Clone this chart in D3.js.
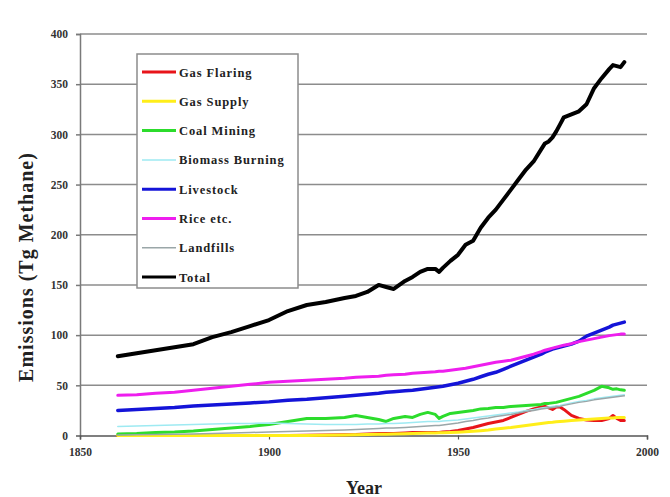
<!DOCTYPE html>
<html>
<head>
<meta charset="utf-8">
<script src="https://cdn.jsdelivr.net/npm/d3@7"></script>
<style>
  html, body { margin: 0; padding: 0; background: #fff; }
  svg { display: block; }
  text { font-family: "Liberation Serif", "Times New Roman", serif; font-weight: bold; }
</style>
</head>
<body>
<svg id="chart" width="670" height="497"></svg>
<script>
// Anthropogenic methane emissions by source, Tg CH4 per year
const years = [1860,1865,1870,1875,1880,1885,1890,1895,1900,1905,1910,1915,1920,1923,1926,1929,1931,1933,1936,1938,1940,1942,1944,1945,1946,1948,1950,1952,1954,1956,1958,1960,1962,1964,1966,1968,1970,1972,1973,1974,1975,1976,1977,1978,1980,1982,1984,1986,1988,1990,1991,1992,1993,1994];

const gasFlaring = [0,0,0,0,0,0,0,0,0,0,0.2,0.5,0.8,1,1.5,2,2,2,2.5,3,3,3,3,3,3.5,4,5,6.5,8,10,12,13.5,15,18,21,24,26.5,28.5,29,27.5,26,28.5,28.5,26,20,17,15.5,15,15,17,20,17,15,15];
const gasSupply = [0,0,0,0,0,0,0,0,0,0,0,0.2,0.5,0.7,1,1.2,1.3,1.4,1.7,2,2.2,2.4,2.6,2.7,2.8,3,3.3,3.7,4.2,4.8,5.5,6.5,7.3,8,9,10,11,12,12.5,13,13.3,13.7,14,14.3,15,15.5,16,16.5,17,17.5,17.5,18,18,18];
const coalMining = [1.5,2,3,3.5,4.5,6,7.5,9,11,14,17,17,18,20,18,16,14,17,19,18,21,23,21,17,19,22,23,24,25,26.5,27,28,28,29,29.5,30,30.5,31,32,32,32.5,33,34,35,37,39,42,45,49,47.5,46,46.5,45.5,45];
const biomassBurning = [9,9.5,10,10.5,11,11.5,12,12,12.5,12,11.5,11,11,11,11.5,11.5,12,12,12.5,13,13.5,14,14,14,14.5,15,15.5,16.5,17.5,18.5,19.5,20.5,21.5,22.5,23.5,25,26,27.5,28,28.5,29,29.5,30,31,32.5,34,35,36.5,37.5,38.5,39,39.5,40,40.5];
const livestock = [25,26,27,28,29.5,30.5,31.5,32.5,33.5,35,36,37.5,39,40,41,42,43,43.5,44.5,45,46,47,48,48.5,49,50.5,52,54,56,58.5,61,63,66,69,72,75,78,81,83,84.5,86,87,88,89,91,94,99,102,105,108,110,111,112,113];
const rice = [40,40.5,42,43,45,47,49,51,53,54,55,56,57,58,58.5,59,60,60.5,61,62,62.5,63,63.5,64,64,65,66,67,68.5,70,71.5,73,74,75,77,79,81,83.5,85,86,87,88,89,90,91.5,93.5,95,96.5,98,99.5,100,100.5,101,101];
const landfills = [0.5,0.7,1,1.2,1.5,2,2.5,3,3.5,4,4.5,5,5.5,6,6.5,7,7.5,7.5,8,8.5,9,9.5,10,10,10.5,11.5,12.5,14,15,16.5,17.5,19,20,21,22.5,24,25,26.5,27,27.5,28,28.5,29,30,31.5,33,34,35.5,36.5,37.5,38,38.5,39,39.5];
const total = [79,82,85,88,91,98,103,109,115,124,130,133,137,139,143,150,148,146,154,158,163,166,166,163,167,174,180,190,194,207,217,225,235,245,255,265,273,285,291,293,297,303,310,317,320,323,330,346,356,365,369,368,367,372];

const seriesNames = ["Gas Flaring","Gas Supply","Coal Mining","Biomass Burning","Livestock","Rice etc.","Landfills","Total"];
const seriesValues = [gasFlaring, gasSupply, coalMining, biomassBurning, livestock, rice, landfills, total];
const seriesColors = ["#e8141a","#ffee1a","#2cdc2c","#9eeaf2","#1414d8","#ee1eee","#9aa6a8","#000000"];
const seriesWidths = [3,3,3,1.5,3.5,3,1.5,4];

const xTicks = [1850,1900,1950,2000];
const yTicks = [0,50,100,150,200,250,300,350,400];

const svg = d3.select("#chart");
const plotLeft = 80, plotRight = 647, plotTop = 34, plotBottom = 435.5;

const x = d3.scaleLinear().domain([1850, 2000]).range([plotLeft, plotRight]);
const y = d3.scaleLinear().domain([0, 400]).range([plotBottom, plotTop]);

// horizontal gridlines
svg.append("g")
  .selectAll("line").data(yTicks.filter(d => d > 0)).join("line")
  .attr("x1", plotLeft).attr("x2", plotRight)
  .attr("y1", d => y(d)).attr("y2", d => y(d))
  .attr("stroke", "#8c8c8c").attr("stroke-width", 1.5);

// y axis
const yAxis = svg.append("g").attr("transform", `translate(${plotLeft},0)`)
  .call(d3.axisLeft(y).tickValues(yTicks).tickSize(4).tickPadding(8));
yAxis.select(".domain").attr("stroke", "#7a7a7a").attr("stroke-width", 1.5);
yAxis.selectAll(".tick line").attr("stroke", "#7a7a7a").attr("stroke-width", 1.5);
yAxis.selectAll(".tick text").attr("font-size", 11.5).attr("fill", "#333")
  .attr("font-family", "Liberation Serif, serif").attr("font-weight", "bold");

// x axis
const xAxis = svg.append("g").attr("transform", `translate(0,${plotBottom})`)
  .call(d3.axisBottom(x).tickValues(xTicks).tickFormat(d3.format("d")).tickSizeInner(4).tickSizeOuter(4).tickPadding(8));
xAxis.select(".domain").attr("stroke", "#555").attr("stroke-width", 1.5);
xAxis.selectAll(".tick line").attr("stroke", "#555").attr("stroke-width", 1.2);
xAxis.selectAll(".tick text").attr("font-size", 11.5).attr("fill", "#333")
  .attr("font-family", "Liberation Serif, serif").attr("font-weight", "bold");

// series lines
const line = d3.line()
  .x((d, i) => x(years[i]))
  .y(d => y(d))
  .curve(d3.curveLinear);

svg.append("g")
  .selectAll("path").data(seriesValues).join("path")
  .attr("d", d => line(d))
  .attr("fill", "none")
  .attr("stroke", (d, i) => seriesColors[i])
  .attr("stroke-width", (d, i) => seriesWidths[i])
  .attr("stroke-linejoin", "round")
  .attr("stroke-linecap", "round");

// legend
const legend = svg.append("g");
legend.append("rect")
  .attr("x", 137).attr("y", 54).attr("width", 161).attr("height", 234)
  .attr("fill", "#fff").attr("stroke", "#8c8c8c").attr("stroke-width", 1.5);
const entries = legend.selectAll("g.entry").data(seriesNames).join("g")
  .attr("class", "entry")
  .attr("transform", (d, i) => `translate(0,${72 + i * 29.3})`);
entries.append("line")
  .attr("x1", 142).attr("x2", 176).attr("y1", 0).attr("y2", 0)
  .attr("stroke", (d, i) => seriesColors[i])
  .attr("stroke-width", (d, i) => Math.min(seriesWidths[i], 3));
entries.append("text")
  .attr("x", 179).attr("y", 4.5)
  .attr("font-size", 12.5).attr("letter-spacing", 0.9).attr("fill", "#222")
  .text(d => d);

// axis titles
svg.append("text")
  .attr("transform", "translate(33,267) rotate(-90)")
  .attr("text-anchor", "middle")
  .attr("font-size", 20).attr("letter-spacing", 1).attr("fill", "#222")
  .text("Emissions (Tg Methane)");

svg.append("text")
  .attr("x", 364).attr("y", 494)
  .attr("text-anchor", "middle")
  .attr("font-size", 18).attr("fill", "#222")
  .text("Year");
</script>
</body>
</html>
